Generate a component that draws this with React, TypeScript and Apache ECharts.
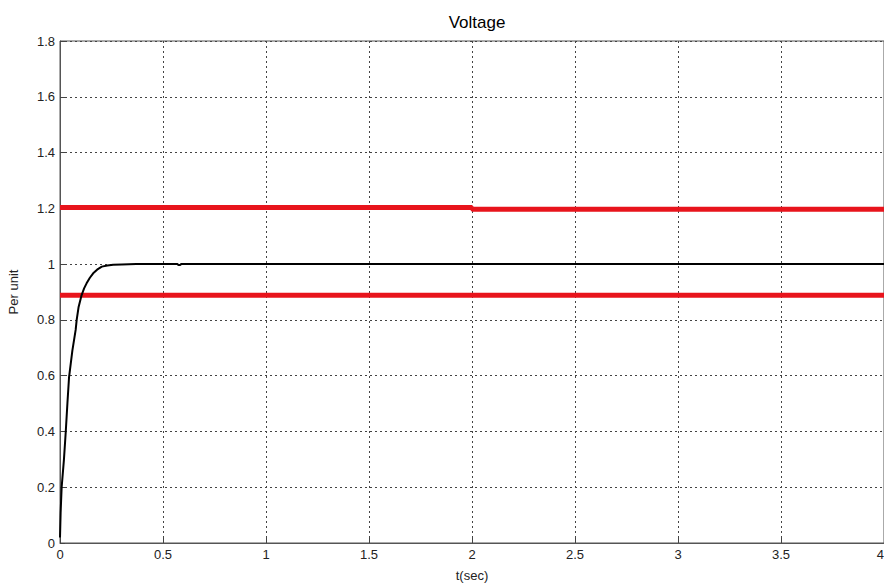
import React, { useEffect, useRef } from "react";
import * as echarts from "echarts";

const timeSec = [0, 0.003, 0.008, 0.019, 0.028, 0.036, 0.044, 0.06, 0.076, 0.081, 0.09, 0.105, 0.117, 0.129, 0.145, 0.161, 0.18, 0.203, 0.23, 0.258, 0.3, 0.37, 0.57, 0.575, 0.583, 0.588, 1, 2, 3, 4];
const voltagePu = [0.02, 0.108, 0.2, 0.298, 0.4, 0.501, 0.595, 0.69, 0.764, 0.8, 0.845, 0.889, 0.913, 0.931, 0.951, 0.967, 0.98, 0.991, 0.995, 0.998, 0.999, 1.0, 1.0, 0.997, 0.997, 1.0, 1.0, 1.0, 1.0, 1.0];
const upperLimitT = [0, 2, 2, 4];
const upperLimitV = [1.203, 1.203, 1.197, 1.197];
const lowerLimitT = [0, 4];
const lowerLimitV = [0.888, 0.888];
const xTicks = [0, 0.5, 1, 1.5, 2, 2.5, 3, 3.5, 4];
const yTicks = [0, 0.2, 0.4, 0.6, 0.8, 1, 1.2, 1.4, 1.6, 1.8];

export default function App() {
  const ref = useRef<HTMLDivElement>(null);
  useEffect(() => {
    if (!ref.current) return;
    const chart = echarts.init(ref.current, null, { renderer: "svg" });
    const zip = (a: number[], b: number[]) => a.map((v, i) => [v, b[i]]);
    const gridLine = { show: true, lineStyle: { color: "#444", type: [2, 3] as any, width: 1 } };
    chart.setOption({
      animation: false,
      backgroundColor: "#fff",
      title: {
        text: "Voltage",
        left: 472,
        top: 9,
        textAlign: "center",
        textStyle: { fontFamily: "Arial, Liberation Sans", fontSize: 17, fontWeight: "normal", color: "#000" },
      },
      grid: {
        left: 60,
        top: 41,
        right: 0,
        bottom: 45,
        show: true,
        borderColor: "#555",
        borderWidth: 1,
        backgroundColor: "#fff",
        containLabel: false,
        outerBoundsMode: "none",
      },
      xAxis: {
        type: "value",
        min: 0,
        max: 4,
        interval: 0.5,
        name: "t(sec)",
        nameLocation: "middle",
        nameGap: 26,
        nameTextStyle: { fontFamily: "Arial, Liberation Sans", fontSize: 13, color: "#222" },
        axisLine: { show: true, onZero: false, lineStyle: { color: "#555", width: 1 } },
        axisTick: { show: true, inside: true, length: 5, lineStyle: { color: "#444" } },
        axisLabel: {
          fontFamily: "Arial, Liberation Sans",
          fontSize: 13,
          color: "#222",
          margin: 5,
          alignMaxLabel: "right",
          formatter: (v: number) => (xTicks.includes(v) ? String(v) : ""),
        },
        splitLine: gridLine,
      },
      yAxis: {
        type: "value",
        min: 0,
        max: 1.8,
        interval: 0.2,
        name: "Per unit",
        nameLocation: "middle",
        nameGap: 40,
        nameTextStyle: { fontFamily: "Arial, Liberation Sans", fontSize: 13, color: "#222" },
        axisLine: { show: true, lineStyle: { color: "#555", width: 1 } },
        axisTick: { show: true, inside: true, length: 5, lineStyle: { color: "#444" } },
        axisLabel: {
          fontFamily: "Arial, Liberation Sans",
          fontSize: 13,
          color: "#222",
          margin: 5,
          formatter: (v: number) => {
            const t = yTicks.find((y) => Math.abs(y - v) < 1e-6);
            return t === undefined ? "" : String(Math.round(t * 10) / 10);
          },
        },
        splitLine: gridLine,
      },
      series: [
        {
          type: "line",
          data: zip(upperLimitT, upperLimitV),
          showSymbol: false,
          lineStyle: { color: "#e8141c", width: 5 },
          silent: true,
        },
        {
          type: "line",
          data: zip(lowerLimitT, lowerLimitV),
          showSymbol: false,
          lineStyle: { color: "#e8141c", width: 5 },
          silent: true,
        },
        {
          type: "line",
          data: zip(timeSec, voltagePu),
          showSymbol: false,
          lineStyle: { color: "#000", width: 2 },
          silent: true,
        },
      ],
    });
    return () => chart.dispose();
  }, []);
  return <div ref={ref} style={{ width: 884, height: 588, position: "absolute", left: 0, top: 0 }} />;
}
